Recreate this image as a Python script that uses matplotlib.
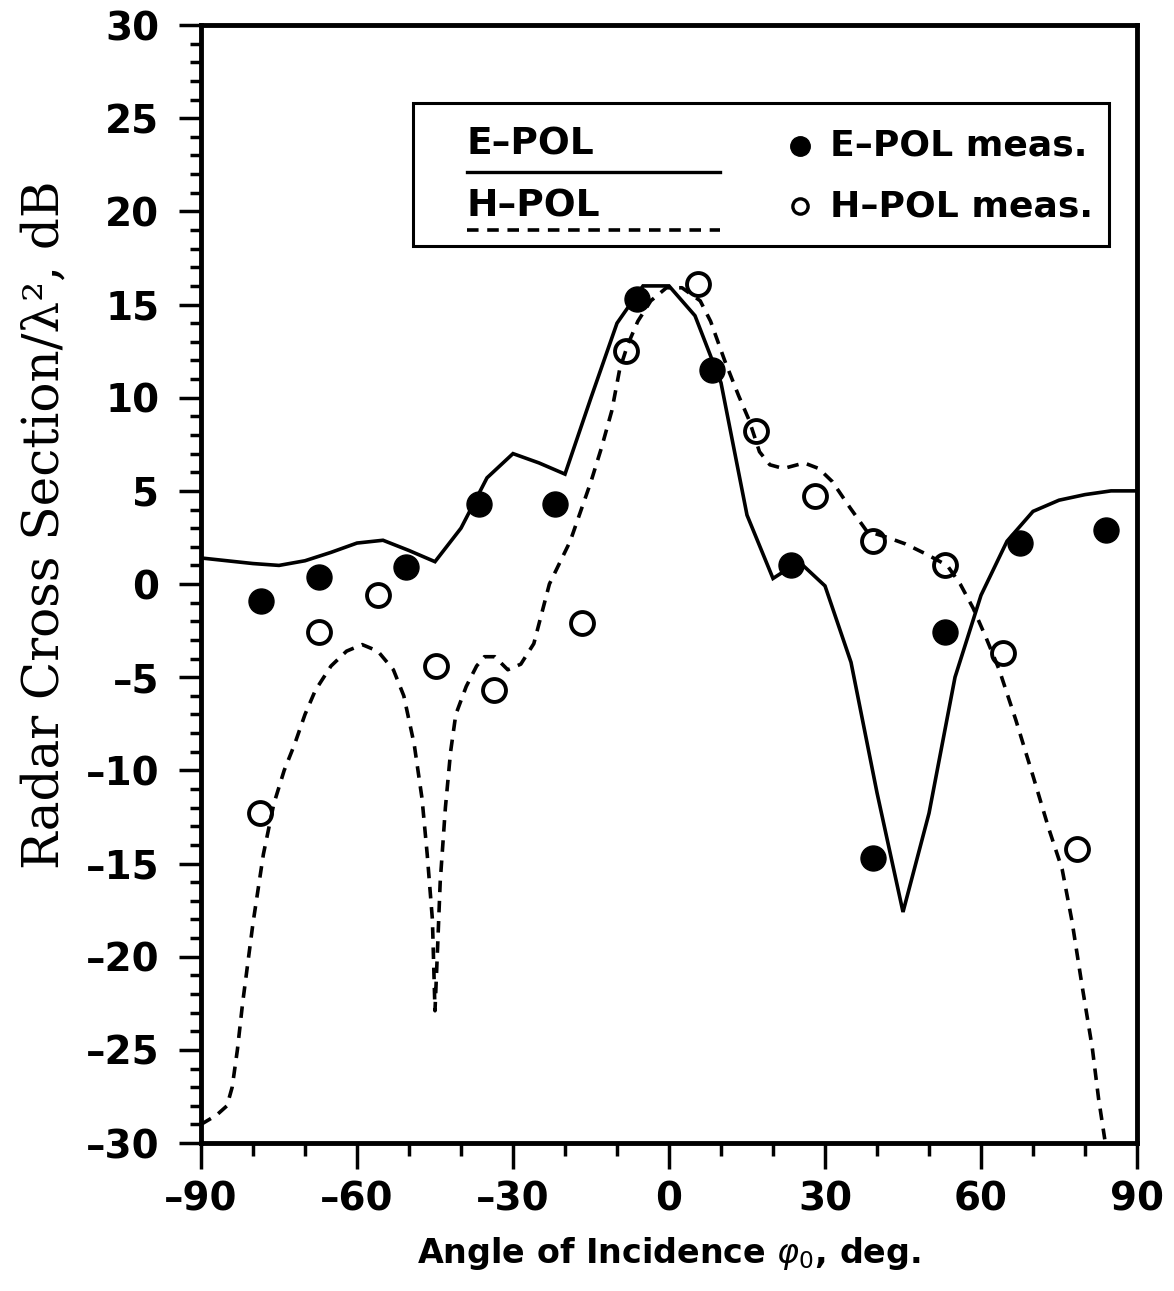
import matplotlib
matplotlib.use("Agg")
import matplotlib.pyplot as plt
from matplotlib.ticker import MultipleLocator
from matplotlib.patches import Rectangle

# E-POL theory (solid), 5 degree steps
e_ang = [-90, -85, -80, -75, -70, -65, -60, -55, -50, -45, -40, -35, -30, -25,
         -20, -15, -10, -5, 0, 5, 10, 15, 20, 25, 30, 35, 40, 45, 50, 55, 60,
         65, 70, 75, 80, 85, 90]
e_rcs = [1.4, 1.25, 1.1, 1.0, 1.25, 1.7, 2.2, 2.35, 1.8, 1.2, 3.0, 5.7, 7.0,
         6.5, 5.9, 10.0, 14.0, 16.0, 16.0, 14.4, 10.8, 3.7, 0.3, 1.2, -0.1,
         -4.2, -11.2, -17.6, -12.3, -5.0, -0.6, 2.3, 3.9, 4.5, 4.8, 5.0, 5.0]

# H-POL theory (dashed)
h_ang = [-90, -87, -85, -84, -83, -82, -80, -78, -76, -74, -72, -70, -68, -65,
         -62, -59, -56, -53, -51, -49, -47.5, -46.5, -45.5, -45, -44.5, -44,
         -43, -42, -41, -39, -37, -35.5, -33.5, -31, -28.5, -26, -23, -19,
         -15, -13, -11, -9.5, -8, -6, -3.5, -0.5, 2.5, 6, 8, 10.7, 13.4,
         15.4, 17.4, 19.4, 22, 26, 28.8, 31.4, 34.8, 38, 42, 45.5, 49.5, 53.5,
         56, 58.5, 61, 63.5, 66.7, 70, 73, 75.6, 77.5, 79.4, 81.4, 82.6, 83.8]
h_rcs = [-29.0, -28.5, -28.0, -27.0, -25.0, -22.5, -18.2, -14.5, -11.8, -10.0,
         -8.6, -7.0, -5.7, -4.4, -3.6, -3.25, -3.6, -4.6, -6.0, -8.6, -11.5,
         -14.5, -18.0, -22.9, -19.5, -16.0, -12.0, -9.0, -7.0, -5.5, -4.4,
         -3.9, -3.9, -4.6, -4.3, -3.2, 0.0, 2.3, 5.5, 7.3, 9.3, 11.5, 12.8,
         14.1, 15.2, 15.9, 15.9, 15.2, 14.1, 12.0, 10.1, 8.8, 7.1, 6.4, 6.2,
         6.5, 6.2, 5.5, 4.1, 2.85, 2.5, 2.15, 1.6, 1.0, 0.0, -1.3, -2.9, -4.6,
         -7.3, -10.3, -13.1, -15.3, -18.1, -21.5, -24.9, -27.6, -29.8]

# measurements
e_meas_ang = [-78.5, -67.3, -50.5, -36.5, -22, -6.2, 8.3, 23.5, 39.2, 53.1, 67.5, 84]
e_meas_rcs = [-0.9, 0.4, 0.9, 4.3, 4.3, 15.3, 11.5, 1.0, -14.7, -2.6, 2.2, 2.9]
h_meas_ang = [-78.7, -67.3, -56, -44.8, -33.7, -16.8, -8.2, 5.5, 16.8, 28.1,
              39.2, 53.1, 64.2, 78.5]
h_meas_rcs = [-12.3, -2.6, -0.6, -4.4, -5.7, -2.1, 12.5, 16.1, 8.2, 4.7, 2.3,
              1.0, -3.7, -14.2]

xticks = [-90, -60, -30, 0, 30, 60, 90]
yticks = list(range(-30, 31, 5))

sans = 'DejaVu Sans'
dash = '\u2013'

fig = plt.figure(figsize=(11.74, 12.91), dpi=100)
ax = fig.add_axes([0.1712, 0.1146, 0.7973, 0.866])

ax.plot(e_ang, e_rcs, color='black', lw=2.6, solid_joinstyle='miter')
ax.plot(h_ang, h_rcs, color='black', lw=2.6, dashes=(3.2, 2.4))
ax.plot(e_meas_ang, e_meas_rcs, 'o', color='black', ms=18, zorder=3)
ax.plot(h_meas_ang, h_meas_rcs, 'o', mfc='none', mec='black', ms=16.5, mew=2.8,
        zorder=3)

ax.set_xlim(-90, 90)
ax.set_ylim(-30, 30)
ax.xaxis.set_minor_locator(MultipleLocator(10))
ax.yaxis.set_minor_locator(MultipleLocator(1))
ax.tick_params(which='both', direction='out', top=False, right=False, width=2.5)
ax.tick_params(axis='x', which='major', length=19, pad=8)
ax.tick_params(axis='x', which='minor', length=9)
ax.tick_params(axis='y', which='major', length=16, pad=14)
ax.tick_params(axis='y', which='minor', length=8)
for s in ax.spines.values():
    s.set_linewidth(3.5)

ax.set_xticks(xticks)
ax.set_xticklabels([str(v).replace('-', dash) for v in xticks],
                   family=sans, weight='bold', fontsize=28)
ax.set_yticks(yticks)
ax.set_yticklabels([str(v).replace('-', dash) for v in yticks],
                   family=sans, weight='bold', fontsize=28)

ax.set_xlabel('Angle of Incidence $\\varphi_0$, deg.', family=sans,
              weight='bold', fontsize=24, labelpad=12)
ax.set_ylabel('Radar Cross Section/\u03bb\u00b2, dB', family='DejaVu Serif',
              fontsize=36)
ax.yaxis.set_label_coords(-0.14, 0.553)

# legend box drawn by hand
tr = ax.transAxes
ax.add_patch(Rectangle((0.2265, 0.802), 0.744, 0.128, transform=tr, fill=False,
                       lw=2.2, ec='black', zorder=4))
ax.text(0.284, 0.893, 'E' + dash + 'POL', transform=tr, family=sans,
        weight='bold', fontsize=27, va='center', ha='left')
ax.plot([0.284, 0.5545], [0.869, 0.869], transform=tr, color='black', lw=2.4)
ax.text(0.284, 0.838, 'H' + dash + 'POL', transform=tr, family=sans,
        weight='bold', fontsize=27, va='center', ha='left')
ax.plot([0.284, 0.5545], [0.8166, 0.8166], transform=tr, color='black', lw=2.6,
        dashes=(3.2, 2.4))
ax.plot([0.64], [0.892], 'o', transform=tr, color='black', ms=14)
ax.plot([0.64], [0.838], 'o', transform=tr, mfc='none', mec='black', ms=11,
        mew=2.4)
ax.text(0.672, 0.892, 'E' + dash + 'POL meas.', transform=tr, family=sans,
        weight='bold', fontsize=26, va='center', ha='left')
ax.text(0.672, 0.838, 'H' + dash + 'POL meas.', transform=tr, family=sans,
        weight='bold', fontsize=26, va='center', ha='left')

fig.savefig('out.png', dpi=100)
